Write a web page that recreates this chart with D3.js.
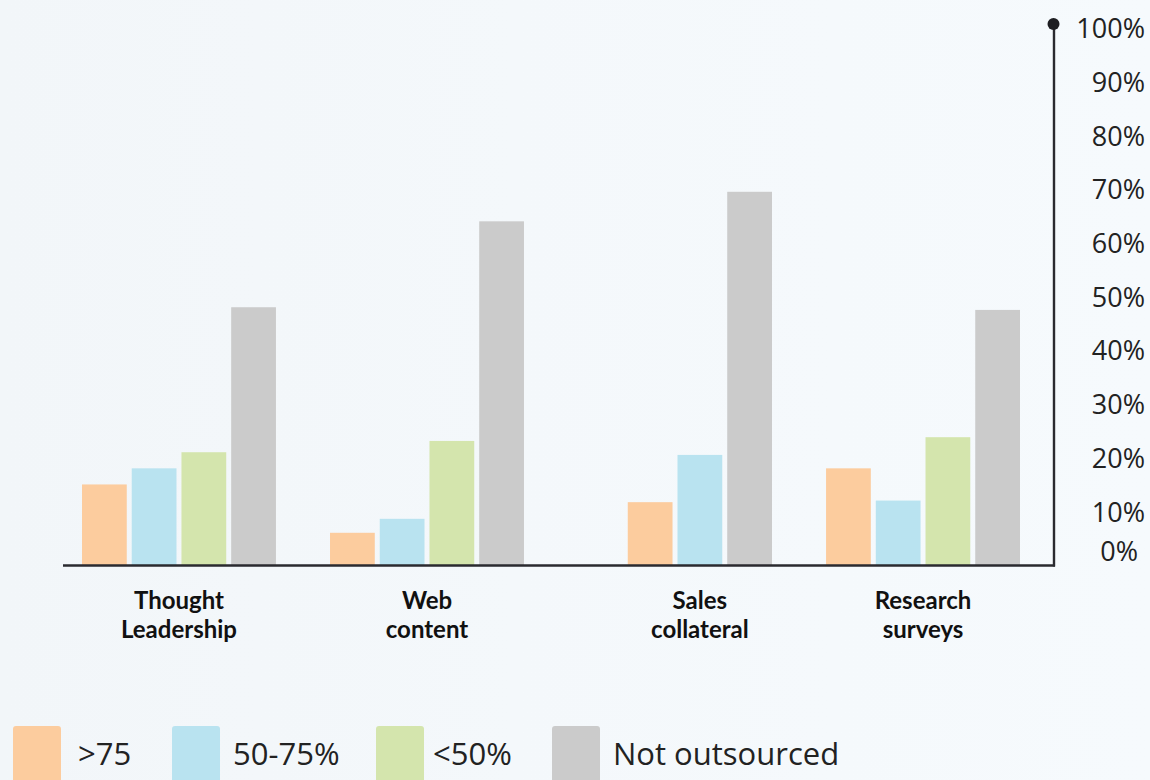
<!DOCTYPE html>
<html>
<head>
<meta charset="utf-8">
<script src="https://cdn.jsdelivr.net/npm/d3@7/dist/d3.min.js"></script>
<style>
  html, body { margin: 0; padding: 0; background: #f5f9fc; }
  svg { display: block; }
</style>
</head>
<body>
<svg id="chart" width="1150" height="780"></svg>
<script>
// Share of content outsourced, by content type
const categories = ["Thought Leadership", "Web content", "Sales collateral", "Research surveys"];
const categoryLines = [["Thought", "Leadership"], ["Web", "content"], ["Sales", "collateral"], ["Research", "surveys"]];

const seriesKeys = [">75", "50-75%", "<50%", "Not outsourced"];
const over75 = [15, 6, 11.7, 18];
const from50to75 = [18, 8.6, 20.5, 12];
const under50 = [21, 23.1, null, 23.8];
const notOutsourced = [48, 64, 69.5, 47.5];
const seriesColors = ["#fccc9e", "#b9e3f0", "#d4e5ad", "#cbcbcb"];

const tickValues = [0, 10, 20, 30, 40, 50, 60, 70, 80, 90, 100];
const tickLabels = ["0%", "10%", "20%", "30%", "40%", "50%", "60%", "70%", "80%", "90%", "100%"];

const seriesValues = [over75, from50to75, under50, notOutsourced];

const svg = d3.select("#chart");

// faint backdrop tint
const defs = svg.append("defs");
const bg = defs.append("linearGradient").attr("id", "bg").attr("x1", 0).attr("x2", 1).attr("y1", 0).attr("y2", 0);
bg.append("stop").attr("offset", "0%").attr("stop-color", "#f2f6f9");
bg.append("stop").attr("offset", "45%").attr("stop-color", "#f4f8fb");
bg.append("stop").attr("offset", "100%").attr("stop-color", "#f6fafd");
svg.append("rect").attr("width", 1150).attr("height", 780).attr("fill", "url(#bg)");

const y = d3.scaleLinear().domain([0, 100]).range([565, 28]);
const x0 = d3.scaleBand().domain(categories).range([82, 1020]).paddingInner(0.218).paddingOuter(0);
const x1 = d3.scaleBand().domain(d3.range(seriesKeys.length)).range([0, x0.bandwidth()]).paddingInner(0.1);

// each category keeps only its present series, packed to the right end of the group
const groups = categories.map((c, ci) => {
  const present = seriesKeys.map((k, si) => ({ key: k, si, value: seriesValues[si][ci] }))
    .filter(d => d.value != null);
  const offset = seriesKeys.length - present.length;
  present.forEach((d, i) => { d.slot = i + offset; });
  return { category: c, lines: categoryLines[ci], bars: present };
});

const g = svg.append("g");
const groupSel = g.selectAll("g.group").data(groups).join("g")
  .attr("class", "group")
  .attr("transform", d => `translate(${x0(d.category)},0)`);

groupSel.selectAll("rect").data(d => d.bars).join("rect")
  .attr("x", d => x1(d.slot))
  .attr("width", x1.bandwidth())
  .attr("y", d => y(d.value))
  .attr("height", d => y(0) - y(d.value))
  .attr("fill", d => seriesColors[d.si]);

// category labels centred under the drawn bars, one text per line
groupSel.each(function(d) {
  const first = x1(d.bars[0].slot);
  const last = x1(d.bars[d.bars.length - 1].slot) + x1.bandwidth();
  const cx = (first + last) / 2;
  d3.select(this).selectAll("text.cat").data(d.lines).join("text")
    .attr("class", "cat")
    .attr("x", cx)
    .attr("y", (line, i) => 609 + i * 29)
    .attr("text-anchor", "middle")
    .attr("font-family", "Lato, 'Open Sans', sans-serif")
    .attr("font-weight", 700)
    .attr("font-size", 24)
    .attr("fill", "#111")
    .text(line => line);
});

// baseline
svg.append("line")
  .attr("x1", 63).attr("x2", 1055)
  .attr("y1", y(0) + 0.5).attr("y2", y(0) + 0.5)
  .attr("stroke", "#2a2a2f").attr("stroke-width", 2.6);

// right-hand value axis
const axisX = 1054;
const axis = d3.axisRight(y).tickValues(tickValues)
  .tickFormat((v, i) => tickLabels[i]).tickSize(0).tickPadding(0);
const axisG = svg.append("g").attr("transform", `translate(${axisX},0)`).call(axis);
axisG.select(".domain").remove();
axisG.selectAll("text")
  .attr("x", d => d === 0 ? 84 : 91)
  .attr("dy", d => d === 0 ? "-0.15em" : "0.36em")
  .attr("text-anchor", "end")
  .attr("font-family", "'Open Sans', sans-serif")
  .attr("font-size", 27)
  .attr("fill", "#222");

svg.append("line")
  .attr("x1", axisX).attr("x2", axisX)
  .attr("y1", y(100) - 4).attr("y2", y(0) + 1.5)
  .attr("stroke", "#2a2a2f").attr("stroke-width", 2.4);
svg.append("circle")
  .attr("cx", axisX - 0.5).attr("cy", y(100) - 4).attr("r", 6)
  .attr("fill", "#1e1e22");

// legend
const legendSwatchX = [13, 172, 376, 552];
const legendTextX = [78, 233, 433, 613];
const legend = svg.append("g").selectAll("g").data(seriesKeys).join("g");
legend.append("rect")
  .attr("x", (d, i) => legendSwatchX[i]).attr("y", 726)
  .attr("width", 48).attr("height", 70).attr("rx", 3)
  .attr("fill", (d, i) => seriesColors[i]);
legend.append("text")
  .attr("x", (d, i) => legendTextX[i]).attr("y", 765)
  .attr("font-family", "'Open Sans', sans-serif")
  .attr("font-size", 31)
  .attr("fill", "#222")
  .text(d => d);
</script>
</body>
</html>
